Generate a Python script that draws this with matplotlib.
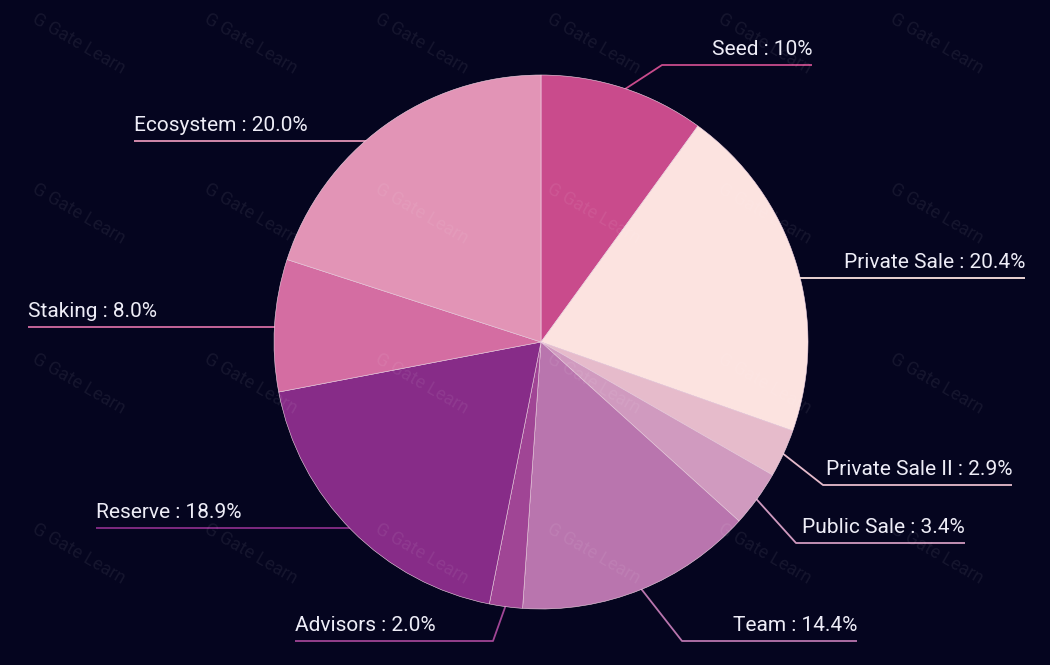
import matplotlib.pyplot as plt
import numpy as np

# token allocation (percent)
labels = ["Seed", "Private Sale", "Private Sale II", "Public Sale", "Team",
          "Advisors", "Reserve", "Staking", "Ecosystem"]
shares = [10.0, 20.4, 2.9, 3.4, 14.4, 2.0, 18.9, 8.0, 20.0]
value_text = ["10%", "20.4%", "2.9%", "3.4%", "14.4%", "2.0%", "18.9%", "8.0%", "20.0%"]
colors = ["#C94B8C", "#FCE3E0", "#E6BBCB", "#D09ABF", "#B975AE",
          "#A04595", "#872C88", "#D46DA2", "#E294B6"]

# label layout in pixels: (elbow x, underline y, far end x)
label_pos = [(662, 65, 812), (790, 278, 1025), (823, 485, 1012), (796, 543, 965),
             (682, 641, 857), (493, 641, 295), (352, 528, 96), (290, 327, 28),
             (400, 141, 134)]

W, H = 1050, 665
BG = "#05051F"
cx, cy, R = 541, H - 342, 267

plt.rcParams["font.family"] = ["Roboto", "DejaVu Sans"]
fig = plt.figure(figsize=(10.5, 6.65), dpi=100, facecolor=BG)
ax = fig.add_axes([0, 0, 1, 1])
ax.set_facecolor(BG)

wedges, _ = ax.pie(shares, colors=colors, startangle=90, counterclock=False,
                   center=(cx, cy), radius=R, frame=True,
                   wedgeprops=dict(edgecolor="#f3d6e6", linewidth=0.4, zorder=3))
ax.set_xlim(0, W)
ax.set_ylim(0, H)
ax.set_aspect("equal")
ax.axis("off")

for w, lab, txt, col, (ex, ey, endx) in zip(wedges, labels, value_text, colors, label_pos):
    mid = np.deg2rad((w.theta1 + w.theta2) / 2)
    sx = cx + R * 0.99 * np.cos(mid)
    sy = cy + R * 0.99 * np.sin(mid)
    y = H - ey
    ax.plot([sx, ex, endx], [sy, y, y], color=col, lw=1.3, zorder=2,
            solid_capstyle="butt")
    ha = "right" if endx > ex else "left"
    ax.text(endx, y + 6, f"{lab} : {txt}", color="#EEEDF7", fontsize=15,
            ha=ha, va="bottom", zorder=5)

# faint watermark grid
for i in range(6):
    for j in range(4):
        ax.text(79 + 171.5 * i, H - (44 + 170 * j), "G Gate Learn", color="white",
                alpha=0.07, fontsize=13, rotation=-30, ha="center", va="center",
                zorder=4)

fig.savefig("out.png", dpi=100, facecolor=BG)
